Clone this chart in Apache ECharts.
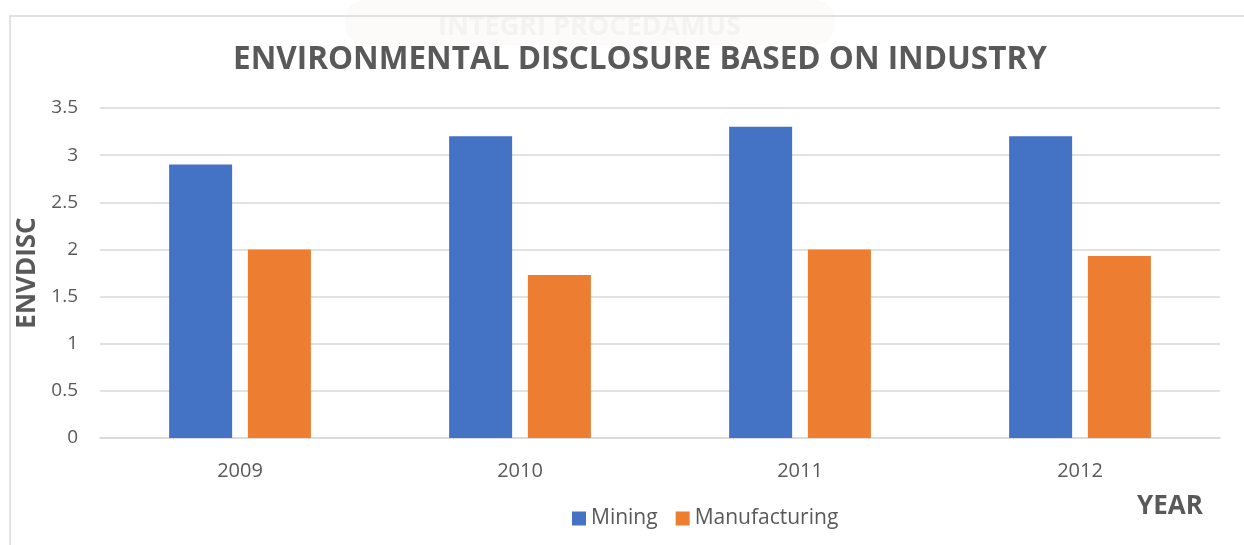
<!DOCTYPE html>
<html><head><meta charset="utf-8">
<script src="https://cdn.jsdelivr.net/npm/echarts@6/dist/echarts.min.js"></script>
<style>html,body{margin:0;padding:0;background:#fff}#c{width:1244px;height:545px}</style>
</head><body><div id="c"></div>
<script>
const categories = ['2009', '2010', '2011', '2012'];
const mining = [2.9, 3.2, 3.3, 3.2];
const manufacturing = [2.0, 1.73, 2.0, 1.93];
const seriesNames = ['Mining', 'Manufacturing'];

const chart = echarts.init(document.getElementById('c'));
const font = '"Open Sans", sans-serif';
chart.setOption({
  animation: false,
  title: {
    text: 'ENVIRONMENTAL DISCLOSURE BASED ON INDUSTRY',
    left: 635, top: 39, textAlign: 'center',
    textStyle: {fontFamily: font, fontSize: 31.5, fontWeight: 'bold', color: '#595959'}
  },
  graphic: [
    {type: 'rect', shape: {x: 345, y: 0, width: 490, height: 45, r: 20}, style: {fill: '#fcfbf9'}, z: -3},
    {type: 'text', left: 438, top: 14, z: -2, style: {text: 'INTEGRI PROCEDAMUS', fontFamily: font, fontSize: 27, fontWeight: 'bold', fill: '#f4f3ef'}},
    {type: 'rect', shape: {x: 10, y: 16, width: 1300, height: 600}, style: {fill: 'none', stroke: '#d9d9d9', lineWidth: 1.5}, z: -1},
    {type: 'text', left: 1137, top: 494, style: {text: 'YEAR', fontFamily: font, fontSize: 26, fontWeight: 'bold', fill: '#595959'}}
  ],
  legend: {
    data: seriesNames, left: 567, top: 503, itemWidth: 14, itemHeight: 14, itemGap: 18,
    icon: 'rect',
    textStyle: {fontFamily: font, fontSize: 21, color: '#595959'}
  },
  grid: {left: 100, right: 24, top: 108, bottom: 107},
  xAxis: {
    type: 'category', data: categories,
    axisLine: {lineStyle: {color: '#d9d9d9', width: 1.5}},
    axisTick: {show: false},
    axisLabel: {fontFamily: font, fontSize: 20, color: '#595959', margin: 23}
  },
  yAxis: {
    type: 'value', min: 0, max: 3.5, interval: 0.5,
    name: 'ENVDISC', nameLocation: 'middle', nameGap: 52, nameRotate: 90,
    nameTextStyle: {fontFamily: font, fontSize: 26, fontWeight: 'bold', color: '#595959'},
    axisLine: {show: false}, axisTick: {show: false},
    axisLabel: {fontFamily: font, fontSize: 19, color: '#595959', margin: 22},
    splitLine: {lineStyle: {color: '#d9d9d9', width: 1.5}}
  },
  series: [
    {name: seriesNames[0], type: 'bar', data: mining, barWidth: 63, barGap: '25%', itemStyle: {color: '#4472c4'}},
    {name: seriesNames[1], type: 'bar', data: manufacturing, barWidth: 63, barGap: '25%', itemStyle: {color: '#ed7d31'}}
  ]
});
</script></body></html>
